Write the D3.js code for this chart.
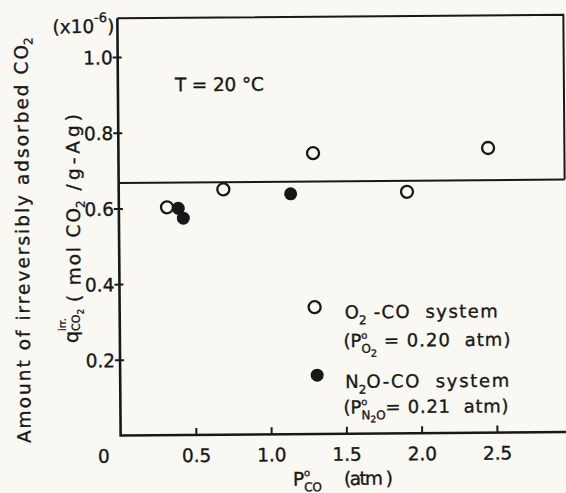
<!DOCTYPE html>
<html><head><meta charset="utf-8">
<script src="https://cdn.jsdelivr.net/npm/d3@7"></script>
<style>
html,body{margin:0;padding:0;background:#f9f8f3;}
svg{display:block;}
text{font-family:"DejaVu Sans",sans-serif;fill:#181818;stroke:#181818;stroke-width:0.35px;white-space:pre;}
</style>
</head><body>
<svg id="c" width="566" height="493"></svg>
<script>
// ---- data ----
const o2CoX  = [0.32, 0.695, 1.293, 1.915, 2.456];
const o2CoY  = [0.602, 0.648, 0.742, 0.638, 0.752];
const n2oCoX = [0.395, 0.428, 1.142];
const n2oCoY = [0.599, 0.573, 0.635];
const refLevel = 0.667;
const xTickVals = [0.5, 1.0, 1.5, 2.0, 2.5];
const xTickLabels = ["0.5", "1.0", "1.5", "2.0", "2.5"];
const yTickVals = [0.2, 0.4, 0.6, 0.8, 1.0];
const yTickLabels = ["0.2", "0.4", "0.6", "0.8", "1.0"];
const originLabel = "0";

// ---- setup ----
const W = 566, H = 493, ink = "#181818", bg = "#f9f8f3";
const svg = d3.select("#c");
svg.append("rect").attr("width", W).attr("height", H).attr("fill", bg);
const g = svg.append("g").attr("transform", "rotate(-0.45,340,226)");

const x = d3.scaleLinear().domain([0, 2.963]).range([119, 565]);
const y = d3.scaleLinear().domain([0, 1]).range([433.8, 55.3]);
const frameTop = 16.6;

function rich(parent, x0, y0, pieces) {
  const t = parent.append("g");
  let cx = x0, markX = x0, stackMax = x0;
  pieces.forEach(p => {
    if (p.mark) { markX = cx; stackMax = cx; }
    if (p.back) cx = markX;
    if (p.resume) cx = stackMax;
    if (p.gap) cx += p.gap;
    if (p.at !== undefined) cx = x0 + p.at;
    const el = t.append("text").attr("x", cx).attr("y", y0 + (p.dy || 0))
      .attr("font-size", p.fs).text(p.t);
    let len = p.len;
    if (p.endAt !== undefined) len = x0 + p.endAt - cx;
    let w;
    if (len) { el.attr("textLength", len).attr("lengthAdjust", "spacing"); w = len; }
    else w = el.node().getComputedTextLength();
    cx += w;
    stackMax = Math.max(stackMax, cx);
  });
  return t;
}

// ---- frame ----
g.append("path")
  .attr("d", `M${x(0)},${frameTop} L${x(0)},${y(0)} L${W + 10},${y(0)}`)
  .attr("fill", "none").attr("stroke", ink).attr("stroke-width", 2.6);
g.append("path")
  .attr("d", `M${x(0)},${frameTop} L565,${frameTop} L565,${y(refLevel)}`)
  .attr("fill", "none").attr("stroke", ink).attr("stroke-width", 2);

// reference line
g.append("line").attr("x1", x(0)).attr("x2", 565)
  .attr("y1", y(refLevel)).attr("y2", y(refLevel))
  .attr("stroke", ink).attr("stroke-width", 2);

// ---- axes ----
const xAxis = d3.axisBottom(x).tickValues(xTickVals)
  .tickFormat((d, i) => xTickLabels[i]).tickSizeInner(-7).tickSizeOuter(0);
const xg = g.append("g").attr("transform", `translate(0,${y(0)})`).call(xAxis);
xg.select(".domain").remove();
xg.selectAll(".tick line").attr("stroke", ink).attr("stroke-width", 2);
xg.selectAll(".tick text").attr("y", 27).attr("dy", 0)
  .attr("font-size", 18.5).attr("font-family", "DejaVu Sans").attr("fill", ink);

const yAxis = d3.axisLeft(y).tickValues(yTickVals)
  .tickFormat((d, i) => yTickLabels[i]).tickSizeInner(5).tickSizeOuter(0).tickPadding(3);
const yg = g.append("g").attr("transform", `translate(${x(0)},0)`).call(yAxis);
yg.select(".domain").remove();
yg.selectAll(".tick line").attr("x2", -5).attr("x1", 4).attr("stroke", ink).attr("stroke-width", 2);
yg.selectAll(".tick text").attr("x", -5).attr("dy", "0.36em")
  .attr("font-size", 18.5).attr("font-family", "DejaVu Sans").attr("fill", ink);

g.append("text").attr("x", x(0) - 17).attr("y", y(0) + 27).attr("text-anchor", "middle")
  .attr("font-size", 18.5).text(originLabel);

// ---- points ----
const o2 = o2CoX.map((v, i) => [v, o2CoY[i]]);
const n2o = n2oCoX.map((v, i) => [v, n2oCoY[i]]);
g.selectAll("circle.o2").data(o2).join("circle").attr("class", "o2")
  .attr("cx", d => x(d[0])).attr("cy", d => y(d[1])).attr("r", 6)
  .attr("fill", bg).attr("stroke", ink).attr("stroke-width", 2.3);
g.selectAll("circle.n2o").data(n2o).join("circle").attr("class", "n2o")
  .attr("cx", d => x(d[0])).attr("cy", d => y(d[1])).attr("r", 6.5)
  .attr("fill", ink);

// ---- annotations ----
rich(g, 54, 31, [
  { t: "(x10", fs: 18.5 },
  { t: "-6", fs: 13, dy: -11 },
  { t: ")", fs: 18.5 }
]);
rich(g, 176, 90, [{ t: "T = 20 °C", fs: 18.5, len: 89 }]);

// legend
g.append("circle").attr("cx", 314).attr("cy", 307).attr("r", 6)
  .attr("fill", bg).attr("stroke", ink).attr("stroke-width", 2.3);
g.append("circle").attr("cx", 316).attr("cy", 375).attr("r", 6.5).attr("fill", ink);

rich(g, 344, 318.5, [
  { t: "O", fs: 18 },
  { t: "2", fs: 12, dy: 6 },
  { t: " -CO  system", fs: 18, endAt: 153 }
]);
rich(g, 342.5, 347, [
  { t: "(P", fs: 18 },
  { t: "o", fs: 10, dy: -8, mark: true },
  { t: "O", fs: 12, dy: 6, back: true },
  { t: "2", fs: 10, dy: 10 },
  { t: " = 0.20  atm)", fs: 18, resume: true, endAt: 167 }
]);
rich(g, 344, 388, [
  { t: "N", fs: 18 },
  { t: "2", fs: 12, dy: 6 },
  { t: "O-CO  system", fs: 18, endAt: 164 }
]);
rich(g, 342, 413.5, [
  { t: "(P", fs: 18 },
  { t: "o", fs: 10, dy: -8, mark: true },
  { t: "N", fs: 12, dy: 6, back: true },
  { t: "2", fs: 9, dy: 9 },
  { t: "O", fs: 12, dy: 6 },
  { t: "= 0.21  atm)", fs: 18, resume: true, endAt: 165 }
]);

// x title
rich(g, 291, 485, [
  { t: "P", fs: 18.5 },
  { t: "o", fs: 10, dy: -9, mark: true },
  { t: "CO", fs: 12, dy: 6, back: true },
  { t: "(atm )", fs: 18.5, at: 51, len: 49 }
]);

// y titles
const t1 = g.append("g").attr("transform", "translate(29,440.6) rotate(-90)");
rich(t1, 0, 0, [
  { t: "Amount of irreversibly adsorbed CO", fs: 18.5, len: 398 },
  { t: "2", fs: 12, dy: 5 }
]);
const t2 = g.append("g").attr("transform", "translate(80,341) rotate(-90)");
rich(t2, 0, 0, [
  { t: "q", fs: 19, dy: -3 },
  { t: "irr.", fs: 10, dy: -15, mark: true },
  { t: "CO", fs: 11, dy: -1, back: true },
  { t: "2", fs: 9, dy: 3 },
  { t: "( mol CO", fs: 18.5, at: 41, len: 94 },
  { t: "2", fs: 12, dy: 5 },
  { t: " /g-Ag)", fs: 18.5, endAt: 229 }
]);
</script>
</body></html>
